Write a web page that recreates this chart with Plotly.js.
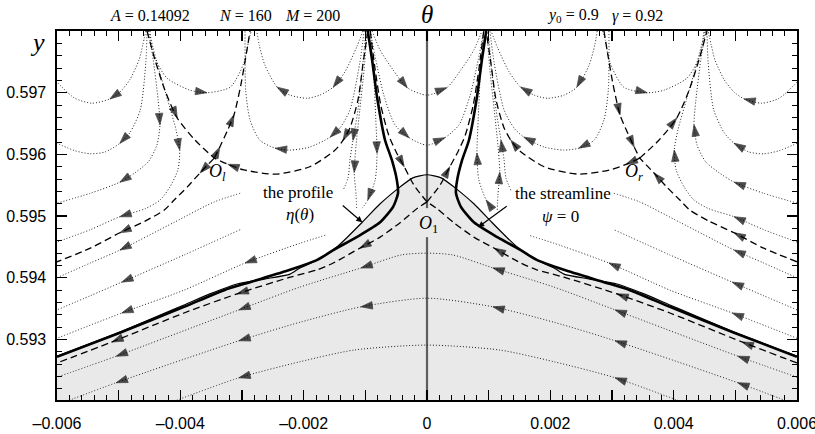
<!DOCTYPE html>
<html>
<head>
<meta charset="utf-8">
<script src="https://cdn.plot.ly/plotly-3.0.1.min.js"></script>
<style>html,body{margin:0;padding:0;background:#fff}</style>
</head>
<body>
<div id="chart" style="width:815px;height:434px"></div>
<script>
// ---- axis ticks ----
const xTickVals = [-0.006,-0.005,-0.004,-0.003,-0.002,-0.001,0,0.001,0.002,0.003,0.004,0.005,0.006];
const xTickText = ['\u20130.006','','\u20130.004','','\u20130.002','','0','','0.002','','0.004','','0.006'];
const yTickVals = [0.593,0.594,0.595,0.596,0.597];
const yTickText = ['0.593','0.594','0.595','0.596','0.597'];

// ---- free-surface profile eta(theta) ----
const thetaP = [-0.00600,-0.00498,-0.00394,-0.00352,-0.00308,-0.00264,-0.00222,-0.00206,-0.00178,-0.00152,-0.00130,-0.00105,-0.00076,-0.00044,-0.00023,0,
                0.00023,0.00044,0.00076,0.00105,0.00130,0.00152,0.00178,0.00206,0.00222,0.00264,0.00308,0.00352,0.00394,0.00498,0.00600];
const etaP = [0.59273,0.59312,0.59356,0.59374,0.59390,0.59398,0.59406,0.59416,0.59429,0.59445,0.59465,0.59490,0.59520,0.59547,0.59562,0.59567,
              0.59562,0.59547,0.59520,0.59490,0.59465,0.59445,0.59429,0.59416,0.59406,0.59398,0.59390,0.59374,0.59356,0.59312,0.59273];

// ---- streamline psi = 0 (two branches) ----
const psiL = [[-0.00096,0.59800],[-0.00089,0.59753],[-0.00081,0.59693],[-0.00068,0.59623],[-0.00057,0.59591],[-0.00049,0.59559],[-0.00047,0.59537],[-0.00055,0.59515],[-0.00076,0.59490],[-0.00114,0.59466],[-0.00152,0.59445],[-0.00178,0.59429],[-0.00222,0.59413],[-0.00287,0.59393],[-0.00329,0.59380],[-0.00394,0.59353],[-0.00498,0.59311],[-0.00600,0.59272]];
const psiR = [[0.00096,0.59800],[0.00089,0.59753],[0.00081,0.59693],[0.00068,0.59623],[0.00057,0.59591],[0.00049,0.59559],[0.00047,0.59537],[0.00055,0.59515],[0.00076,0.59490],[0.00114,0.59466],[0.00152,0.59445],[0.00178,0.59429],[0.00222,0.59413],[0.00287,0.59393],[0.00329,0.59380],[0.00394,0.59353],[0.00498,0.59311],[0.00600,0.59272]];

// ---- separatrices of the saddle O_l ----
const sepLa = [[-0.00454,0.59800],[-0.00441,0.59753],[-0.00425,0.59704],[-0.00405,0.59659],[-0.00376,0.59623],[-0.00345,0.59594]];
const sepLb = [[-0.00096,0.59800],[-0.00104,0.59745],[-0.00112,0.59688],[-0.00125,0.59643],[-0.00136,0.59623],[-0.00149,0.59607],[-0.00190,0.59580],[-0.00246,0.59568],[-0.00297,0.59575],[-0.00323,0.59584],[-0.00345,0.59594]];
const sepLc = [[-0.00345,0.59594],[-0.00336,0.59612],[-0.00323,0.59640],[-0.00313,0.59664],[-0.00302,0.59712],[-0.00292,0.59769],[-0.00287,0.59800]];
const sepLd = [[-0.00345,0.59594],[-0.00368,0.59570],[-0.00389,0.59547],[-0.00410,0.59526],[-0.00426,0.59510],[-0.00457,0.59492],[-0.00498,0.59473],[-0.00546,0.59448],[-0.00600,0.59426]];
// ---- separatrices of the saddle O_1 ----
const sepCa = [[-0.00092,0.59800],[-0.00084,0.59737],[-0.00075,0.59680],[-0.00062,0.59631],[-0.00050,0.59604],[-0.00037,0.59580],[-0.00021,0.59550],[0,0.59523]];
const sepCb = [[0,0.59523],[0.00021,0.59550],[0.00037,0.59580],[0.00050,0.59604],[0.00062,0.59631],[0.00075,0.59680],[0.00084,0.59737],[0.00092,0.59800]];
const sepCc = [[0,0.59523],[-0.00015,0.59513],[-0.00044,0.59489],[-0.00076,0.59466],[-0.00109,0.59448],[-0.00152,0.59424],[-0.00178,0.59413],[-0.00222,0.59401],[-0.00308,0.59374],[-0.00394,0.59343],[-0.00511,0.59296],[-0.00600,0.59262]];
const sepCd = [[0.00600,0.59262],[0.00511,0.59296],[0.00394,0.59343],[0.00308,0.59374],[0.00222,0.59401],[0.00178,0.59413],[0.00152,0.59424],[0.00109,0.59448],[0.00076,0.59466],[0.00044,0.59489],[0.00015,0.59513],[0,0.59523]];
// ---- separatrices of the saddle O_r ----
const sepRa = [[0.00345,0.59594],[0.00376,0.59623],[0.00405,0.59659],[0.00425,0.59704],[0.00441,0.59753],[0.00454,0.59800]];
const sepRb = [[0.00345,0.59594],[0.00323,0.59584],[0.00297,0.59575],[0.00246,0.59568],[0.00190,0.59580],[0.00149,0.59607],[0.00136,0.59623],[0.00125,0.59643],[0.00112,0.59688],[0.00104,0.59745],[0.00096,0.59800]];
const sepRc = [[0.00287,0.59800],[0.00292,0.59769],[0.00302,0.59712],[0.00313,0.59664],[0.00323,0.59640],[0.00336,0.59612],[0.00345,0.59594]];
const sepRd = [[0.00600,0.59426],[0.00546,0.59448],[0.00498,0.59473],[0.00457,0.59492],[0.00426,0.59510],[0.00410,0.59526],[0.00389,0.59547],[0.00368,0.59570],[0.00345,0.59594]];

// ---- streamlines, left half ----
const s1 = [[-0.00456,0.59800],[-0.00461,0.59777],[-0.00467,0.59753],[-0.00482,0.59721],[-0.00498,0.59701],[-0.00514,0.59690],[-0.00543,0.59683],[-0.00571,0.59691],[-0.00600,0.59717]];
const s2 = [[-0.00454,0.59800],[-0.00456,0.59748],[-0.00465,0.59672],[-0.00482,0.59635],[-0.00498,0.59618],[-0.00522,0.59604],[-0.00546,0.59601],[-0.00571,0.59606],[-0.00600,0.59618]];
const s3 = [[-0.00452,0.59800],[-0.00444,0.59753],[-0.00436,0.59688],[-0.00433,0.59648],[-0.00438,0.59615],[-0.00452,0.59588],[-0.00474,0.59570],[-0.00498,0.59555],[-0.00546,0.59537],[-0.00600,0.59521]];
const s4 = [[-0.00451,0.59800],[-0.00439,0.59753],[-0.00422,0.59693],[-0.00407,0.59640],[-0.00401,0.59607],[-0.00404,0.59575],[-0.00417,0.59547],[-0.00433,0.59526],[-0.00457,0.59512],[-0.00498,0.59499],[-0.00546,0.59478],[-0.00600,0.59458]];
const s5 = [[-0.00449,0.59800],[-0.00443,0.59761],[-0.00422,0.59724],[-0.00384,0.59704],[-0.00357,0.59700],[-0.00319,0.59709],[-0.00297,0.59748],[-0.00289,0.59785],[-0.00285,0.59800]];
const s6 = [[-0.00102,0.59800],[-0.00109,0.59748],[-0.00125,0.59672],[-0.00141,0.59643],[-0.00157,0.59628],[-0.00190,0.59612],[-0.00222,0.59607],[-0.00246,0.59610],[-0.00271,0.59623],[-0.00287,0.59656],[-0.00294,0.59704],[-0.00295,0.59800]];
const s7 = [[-0.00104,0.59800],[-0.00114,0.59774],[-0.00133,0.59734],[-0.00152,0.59709],[-0.00174,0.59696],[-0.00195,0.59691],[-0.00222,0.59696],[-0.00243,0.59709],[-0.00263,0.59745],[-0.00272,0.59777],[-0.00276,0.59800]];
const m1 = [[-0.00099,0.59800],[-0.00105,0.59737],[-0.00112,0.59672],[-0.00120,0.59623],[-0.00125,0.59591],[-0.00128,0.59562],[-0.00136,0.59542]];
const m2 = [[-0.00097,0.59800],[-0.00102,0.59737],[-0.00109,0.59672],[-0.00115,0.59615],[-0.00118,0.59571],[-0.00115,0.59534],[-0.00114,0.59510]];
const m3 = [[-0.00092,0.59800],[-0.00086,0.59721],[-0.00083,0.59656],[-0.00081,0.59602],[-0.00084,0.59559],[-0.00096,0.59526],[-0.00105,0.59513]];
const m1b = [[-0.00303,0.59537],[-0.00345,0.59523],[-0.00410,0.59490],[-0.00498,0.59445],[-0.00546,0.59424],[-0.00600,0.59400]];
const m2b = [[-0.00303,0.59478],[-0.00394,0.59437],[-0.00495,0.59393],[-0.00546,0.59371],[-0.00600,0.59348]];
const m3b = [[-0.00165,0.59469],[-0.00206,0.59456],[-0.00295,0.59424],[-0.00394,0.59380],[-0.00495,0.59343],[-0.00600,0.59302]];

// ---- streamlines over the centre ----
const c1 = [[-0.00089,0.59800],[-0.00076,0.59769],[-0.00055,0.59737],[-0.00032,0.59708],[0,0.59696],[0.00032,0.59708],[0.00055,0.59737],[0.00076,0.59769],[0.00089,0.59800]];
const c2 = [[-0.00092,0.59800],[-0.00083,0.59753],[-0.00070,0.59696],[-0.00052,0.59648],[-0.00029,0.59627],[0,0.59615],[0.00029,0.59627],[0.00052,0.59648],[0.00070,0.59696],[0.00083,0.59753],[0.00092,0.59800]];

// ---- streamlines, right half ----
const s1r = [[0.00600,0.59717],[0.00571,0.59691],[0.00543,0.59683],[0.00514,0.59690],[0.00498,0.59701],[0.00482,0.59721],[0.00467,0.59753],[0.00461,0.59777],[0.00456,0.59800]];
const s2r = [[0.00600,0.59618],[0.00571,0.59606],[0.00546,0.59601],[0.00522,0.59604],[0.00498,0.59618],[0.00482,0.59635],[0.00465,0.59672],[0.00456,0.59748],[0.00454,0.59800]];
const s3r = [[0.00600,0.59521],[0.00546,0.59537],[0.00498,0.59555],[0.00474,0.59570],[0.00452,0.59588],[0.00438,0.59615],[0.00433,0.59648],[0.00436,0.59688],[0.00444,0.59753],[0.00452,0.59800]];
const s4r = [[0.00600,0.59458],[0.00546,0.59478],[0.00498,0.59499],[0.00457,0.59512],[0.00433,0.59526],[0.00417,0.59547],[0.00404,0.59575],[0.00401,0.59607],[0.00407,0.59640],[0.00422,0.59693],[0.00439,0.59753],[0.00451,0.59800]];
const s5r = [[0.00285,0.59800],[0.00289,0.59785],[0.00297,0.59748],[0.00319,0.59709],[0.00357,0.59700],[0.00384,0.59704],[0.00422,0.59724],[0.00443,0.59761],[0.00449,0.59800]];
const s6r = [[0.00295,0.59800],[0.00294,0.59704],[0.00287,0.59656],[0.00271,0.59623],[0.00246,0.59610],[0.00222,0.59607],[0.00190,0.59612],[0.00157,0.59628],[0.00141,0.59643],[0.00125,0.59672],[0.00109,0.59748],[0.00102,0.59800]];
const s7r = [[0.00276,0.59800],[0.00272,0.59777],[0.00263,0.59745],[0.00243,0.59709],[0.00222,0.59696],[0.00195,0.59691],[0.00174,0.59696],[0.00152,0.59709],[0.00133,0.59734],[0.00114,0.59774],[0.00104,0.59800]];
const m1r = [[0.00136,0.59542],[0.00128,0.59562],[0.00125,0.59591],[0.00120,0.59623],[0.00112,0.59672],[0.00105,0.59737],[0.00099,0.59800]];
const m2r = [[0.00114,0.59510],[0.00115,0.59534],[0.00118,0.59571],[0.00115,0.59615],[0.00109,0.59672],[0.00102,0.59737],[0.00097,0.59800]];
const m3r = [[0.00105,0.59513],[0.00096,0.59526],[0.00084,0.59559],[0.00081,0.59602],[0.00083,0.59656],[0.00086,0.59721],[0.00092,0.59800]];
const m1br = [[0.00600,0.59400],[0.00546,0.59424],[0.00498,0.59445],[0.00410,0.59490],[0.00345,0.59523],[0.00303,0.59537]];
const m2br = [[0.00600,0.59348],[0.00546,0.59371],[0.00495,0.59393],[0.00394,0.59437],[0.00303,0.59478]];
const m3br = [[0.00600,0.59302],[0.00495,0.59343],[0.00394,0.59380],[0.00295,0.59424],[0.00206,0.59456],[0.00165,0.59469]];

// ---- streamlines inside the liquid (flow from right to left) ----
const g1 = [[0.00600,0.59239],[0.00504,0.59273],[0.00305,0.59348],[0.00206,0.59385],[0.00107,0.59416],[0.00042,0.59437],[0,0.59440],[-0.00042,0.59437],[-0.00107,0.59416],[-0.00206,0.59385],[-0.00305,0.59348],[-0.00504,0.59273],[-0.00600,0.59239]];
const g2 = [[0.00600,0.59194],[0.00504,0.59230],[0.00305,0.59298],[0.00206,0.59328],[0.00107,0.59353],[0,0.59367],[-0.00107,0.59353],[-0.00206,0.59328],[-0.00305,0.59298],[-0.00504,0.59230],[-0.00600,0.59194]];
const g3 = [[0.00426,0.59194],[0.00305,0.59238],[0.00206,0.59264],[0.00118,0.59283],[0,0.59291],[-0.00118,0.59283],[-0.00206,0.59264],[-0.00305,0.59238],[-0.00426,0.59194]];

// ---- symmetry line theta = 0 (broken around the O_1 label) ----
const symX = [0, 0, null, 0, 0];
const symY = [0.59800, 0.59513, null, 0.59466, 0.59202];

// ---- line styles ----
const DOTTED = {color: '#222', width: 1, dash: '1px,2px', shape: 'spline', smoothing: 0.7};
const DASHED = {color: '#000', width: 1.3, dash: '7px,4px', shape: 'spline', smoothing: 0.7};
const THICK = {color: '#000', width: 2.6, shape: 'spline', smoothing: 0.6};
const ARROW = 12;

// curve, style, indices of the points that carry a direction arrow
const curves = [
  [g1, DOTTED, [1,2,4,8,10,11]], [g2, DOTTED, [1,2,4,6,8,9]], [g3, DOTTED, [1,7]],
  [s1, DOTTED, [5]], [s2, DOTTED, [4]], [s3, DOTTED, [3,7]], [s4, DOTTED, [4,9]],
  [s5, DOTTED, [4]], [s6, DOTTED, [4,7]], [s7, DOTTED, [3,7]],
  [m1, DOTTED, [3]], [m2, DOTTED, [4]], [m3, DOTTED, [3,5]],
  [m1b, DOTTED, [3]], [m2b, DOTTED, [2]], [m3b, DOTTED, [2,4]],
  [c1, DOTTED, [3,5]], [c2, DOTTED, [4,6]],
  [s1r, DOTTED, [3]], [s2r, DOTTED, [4]], [s3r, DOTTED, [2,6]], [s4r, DOTTED, [2,7]],
  [s5r, DOTTED, [4]], [s6r, DOTTED, [4,7]], [s7r, DOTTED, [3,7]],
  [m1r, DOTTED, [3]], [m2r, DOTTED, [2]], [m3r, DOTTED, [1,3]],
  [m1br, DOTTED, [2]], [m2br, DOTTED, [2]], [m3br, DOTTED, [1,3]],
  [sepLa, DASHED, [3]], [sepLb, DASHED, [4,9]], [sepLc, DASHED, [1,3]], [sepLd, DASHED, [1,6]],
  [sepCa, DASHED, [5]], [sepCb, DASHED, [2]], [sepCc, DASHED, [4,8,10]], [sepCd, DASHED, [1,3,7]],
  [sepRa, DASHED, [2]], [sepRb, DASHED, [1,6]], [sepRc, DASHED, [3,5]], [sepRd, DASHED, [2,7]],
  [psiL, THICK, []], [psiR, THICK, []]
];

function track(pts, line, arrows) {
  return {
    type: 'scatter', mode: 'lines+markers',
    x: pts.map(p => p[0]), y: pts.map(p => p[1]),
    line: line,
    marker: {symbol: 'arrow', angleref: 'previous', color: '#000',
             line: {width: 0.8, color: '#000'},
             size: pts.map((p, i) => arrows.includes(i) ? ARROW : 0)},
    hoverinfo: 'skip', showlegend: false
  };
}

const traces = [];
// liquid region under the profile
traces.push({type: 'scatter', mode: 'lines', x: thetaP, y: etaP, fill: 'tozeroy',
             fillcolor: '#e9e9e9', line: {width: 0, shape: 'spline', smoothing: 0.6},
             hoverinfo: 'skip', showlegend: false});
traces.push({type: 'scatter', mode: 'lines', x: symX, y: symY, connectgaps: false,
             line: {color: '#5e5e5e', width: 2.2}, hoverinfo: 'skip', showlegend: false});
curves.forEach(c => traces.push(track(c[0], c[1], c[2])));
// the profile itself, thin solid
traces.push({type: 'scatter', mode: 'lines', x: thetaP, y: etaP,
             line: {color: '#000', width: 1.2, shape: 'spline', smoothing: 0.6},
             hoverinfo: 'skip', showlegend: false});

const SERIF = 'Liberation Serif, Times New Roman, serif';
const SANS = 'Liberation Sans, Arial, sans-serif';
const px = v => (v - 57) / 740;      // paper x from left of plot
const py = v => (400 - v) / 369;     // paper y from bottom of plot

function label(text, x, y, size, extra) {
  return Object.assign({text: text, x: x, y: y, xref: 'x', yref: 'y', showarrow: false,
    xanchor: 'center', yanchor: 'middle',
    font: {family: SERIF, size: size, color: '#000'}}, extra || {});
}
const TOP = {xref: 'paper', yref: 'paper', xanchor: 'left'};

const annotations = [
  label('<i>A</i> = 0.14092', px(108), py(16), 16, TOP),
  label('<i>N</i> = 160', px(217), py(16), 16, TOP),
  label('<i>M</i> = 200', px(283), py(16), 16, TOP),
  label('<i>\u03b8</i>', px(427), py(14), 25, {xref: 'paper', yref: 'paper'}),
  label('<i>y</i><sub>0</sub> = 0.9', px(545), py(16), 16, TOP),
  label('<i>\u03b3</i> = 0.92', px(610), py(16), 16, TOP),
  label('<i>y</i>', px(37), py(42), 26, {xref: 'paper', yref: 'paper'}),
  label('<i>O</i><sub><i>l</i></sub>', -0.00340, 0.59571, 18),
  label('<i>O</i><sub><i>r</i></sub>', 0.00336, 0.59570, 18),
  label('<i>O</i><sub>1</sub>', 0.00002, 0.59486, 18),
  label('the profile', -0.00209, 0.59539, 17),
  label('<i>\u03b7</i>(<i>\u03b8</i>)', -0.00206, 0.59502, 17),
  label('the streamline', 0.00221, 0.59536, 17),
  label('<i>\u03c8</i> = 0', 0.00216, 0.59500, 17),
  {text: '', x: -0.00105, y: 0.59490, xref: 'x', yref: 'y', showarrow: true,
   ax: -21, ay: -18, arrowhead: 2, arrowsize: 1, arrowwidth: 1.2, arrowcolor: '#000', standoff: 0},
  {text: '', x: 0.00083, y: 0.59482, xref: 'x', yref: 'y', showarrow: true,
   ax: 30, ay: -22, arrowhead: 2, arrowsize: 1, arrowwidth: 1.2, arrowcolor: '#000', standoff: 0}
];

const axisCommon = {
  showline: true, linecolor: '#000', linewidth: 1.6, mirror: 'allticks',
  ticks: 'inside', ticklen: 10, tickwidth: 1.3, tickcolor: '#000',
  showgrid: false, zeroline: false, tickmode: 'array', ticklabeloverflow: 'allow',
  tickfont: {family: SANS, size: 16, color: '#000'}
};

const layout = {
  width: 815, height: 434,
  margin: {l: 57, r: 18, t: 31, b: 34},
  paper_bgcolor: '#fff', plot_bgcolor: '#fff',
  showlegend: false, hovermode: false,
  xaxis: Object.assign({}, axisCommon, {
    range: [-0.006, 0.006], tickvals: xTickVals, ticktext: xTickText, ticklabelstandoff: 8,
    minor: {ticks: 'inside', ticklen: 5, tickwidth: 1, tickcolor: '#000', tick0: 0, dtick: 0.0002, showgrid: false}
  }),
  yaxis: Object.assign({}, axisCommon, {
    range: [0.59202, 0.598], tickvals: yTickVals, ticktext: yTickText, ticklabelstandoff: 6,
    minor: {ticks: 'inside', ticklen: 5, tickwidth: 1, tickcolor: '#000', tick0: 0.592, dtick: 0.0002, showgrid: false}
  }),
  annotations: annotations
};

Plotly.newPlot('chart', traces, layout, {staticPlot: true, displayModeBar: false});
</script>
</body>
</html>
